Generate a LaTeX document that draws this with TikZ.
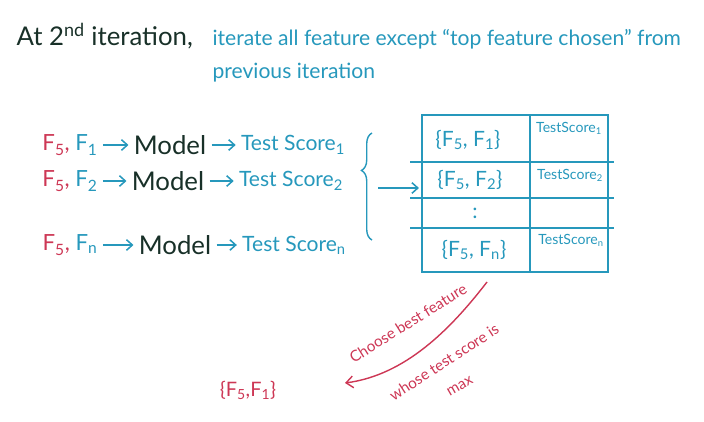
\documentclass[tikz,border=0pt]{standalone}
\usepackage{fontspec}
\setmainfont{Lato}
\usetikzlibrary{arrows.meta, positioning, decorations.pathreplacing}
\definecolor{pen}{RGB}{38,152,188}
\definecolor{ink}{RGB}{24,48,40}
\definecolor{marker}{RGB}{205,55,85}

\begin{document}
\begin{tikzpicture}[x=0.03cm, y=-0.03cm, line width=1.2pt,
    flow/.style={-{Straight Barb[length=5pt, width=9pt]}, pen, line width=1.3pt, shorten <=2pt, shorten >=2pt},
    feat/.style={font=\fontsize{19}{21}\selectfont, inner sep=2pt},
    model/.style={ink, font=\fontsize{22}{24}\selectfont, inner sep=2pt},
    score/.style={pen, font=\fontsize{18}{20}\selectfont, inner sep=2pt},
    cell/.style={pen, font=\fontsize{18}{20}\selectfont, inner sep=1pt},
    small/.style={pen, font=\fontsize{12}{14}\selectfont, inner sep=1pt},
    note/.style={marker, font=\fontsize{13}{15}\selectfont, inner sep=0pt}]
  \useasboundingbox (0,0) rectangle (704,421);

  % Heading
  \node[ink, anchor=base west, font=\fontsize{22}{24}\selectfont] (head) at (12,45) {At 2\textsuperscript{nd} iteration,};
  \node[pen, anchor=base west, font=\fontsize{18}{20}\selectfont] (task) at (208,45) {iterate all feature except ``top feature chosen'' from};
  \node[pen, anchor=base west, font=\fontsize{18}{20}\selectfont] (task2) at (208,78) {previous iteration};

  % Row 1
  \node[feat] (f1) at (70,145) {\textcolor{marker}{F\textsubscript{5},} \textcolor{pen}{F\textsubscript{1}}};
  \node[model] (m1) at (170,145) {Model};
  \node[score] (s1) at (293,145) {Test Score\textsubscript{1}};
  \draw[flow] (f1) -- (m1);
  \draw[flow] (m1) -- (s1);

  % Row 2
  \node[feat] (f2) at (70,181) {\textcolor{marker}{F\textsubscript{5},} \textcolor{pen}{F\textsubscript{2}}};
  \node[model] (m2) at (168,181) {Model};
  \node[score] (s2) at (291,181) {Test Score\textsubscript{2}};
  \draw[flow] (f2) -- (m2);
  \draw[flow] (m2) -- (s2);

  % Row n
  \node[feat] (fn) at (70,245) {\textcolor{marker}{F\textsubscript{5},} \textcolor{pen}{F\textsubscript{n}}};
  \node[model] (mn) at (175,245) {Model};
  \node[score] (sn) at (294,245) {Test Score\textsubscript{n}};
  \draw[flow] (fn) -- (mn);
  \draw[flow] (mn) -- (sn);

  % Brace and arrow to the table
  \draw[pen, decorate, decoration={brace, amplitude=9pt, aspect=0.65}] (372,240) -- (372,133);
  \coordinate (brace) at (376,188);
  \node[draw=pen, rectangle, minimum width=5.58cm, minimum height=4.71cm] (table) at (515,193.5) {};
  \draw[flow] (brace) -- (table.west |- brace);

  % Table lines
  \draw[pen] (530,115) -- (530,272);
  \draw[pen] (410,162) -- (614,162);
  \draw[pen] (410,198) -- (614,198);
  \draw[pen] (410,228) -- (614,228);

  % Table cells
  \node[cell] (c11) at (468,140) {\{F\textsubscript{5}, F\textsubscript{1}\}};
  \node[small] (c12) at (569,128) {TestScore\textsubscript{1}};
  \node[cell] (c21) at (470,180) {\{F\textsubscript{5}, F\textsubscript{2}\}};
  \node[small] (c22) at (570,175) {TestScore\textsubscript{2}};
  \node[cell] (c31) at (475,213) {:};
  \node[cell] (cn1) at (474,250) {\{F\textsubscript{5}, F\textsubscript{n}\}};
  \node[small] (cn2) at (571,240) {TestScore\textsubscript{n}};

  % Pick the best one
  \coordinate (pick) at (487,282);
  \coordinate (best) at (345,383);
  \draw[marker, -{Straight Barb[length=6pt, width=10pt]}, line width=1.2pt] (pick) .. controls (450,330) and (405,375) .. (best);
  \node[note, rotate=32] (choose) at (408,323) {Choose best feature};
  \node[note, rotate=33] (whose) at (444,362) {whose test score is};
  \node[note, rotate=30] (max) at (460,386) {max};

  % Result
  \node[marker, font=\fontsize{17}{19}\selectfont] (result) at (248,390) {\{F\textsubscript{5},F\textsubscript{1}\}};
\end{tikzpicture}
\end{document}
